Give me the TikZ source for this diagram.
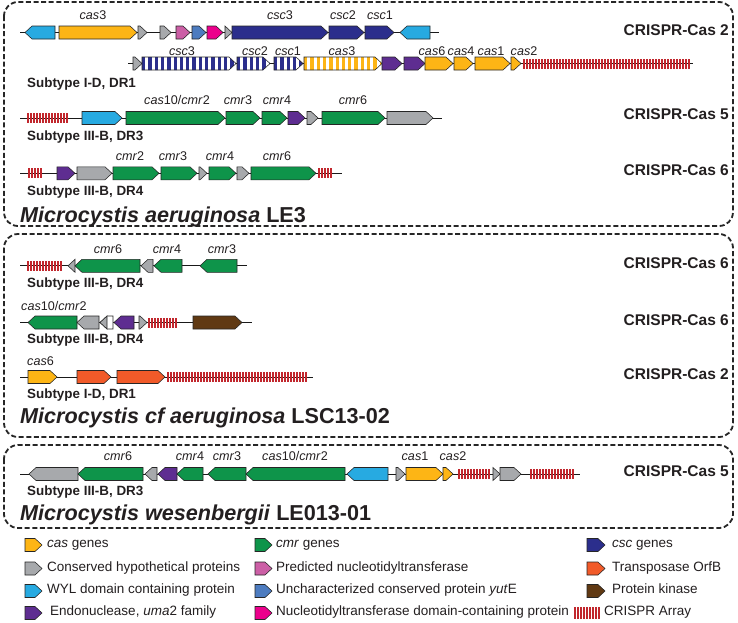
\documentclass[tikz,border=0pt]{standalone}
\usepackage{fontspec}
\setmainfont{Liberation Sans}
\definecolor{cas}{HTML}{FDB515}
\definecolor{cmr}{HTML}{0E944A}
\definecolor{csc}{HTML}{2B2E8C}
\definecolor{hyp}{HTML}{A7A9AC}
\definecolor{wyl}{HTML}{27AAE1}
\definecolor{pnt}{HTML}{CC5FA6}
\definecolor{yut}{HTML}{4D7CC0}
\definecolor{endo}{HTML}{5E2D91}
\definecolor{ntd}{HTML}{EC008C}
\definecolor{tra}{HTML}{F15A29}
\definecolor{kin}{HTML}{603913}
\definecolor{crr}{HTML}{C1272D}
\definecolor{txt}{HTML}{231F20}
\tikzset{
  gene/.style={draw=black!85,line width=0.55pt,line join=miter},
  bone/.style={draw=black!90,line width=0.8pt},
  box/.style={draw=black!85,line width=1.8pt,dash pattern=on 5pt off 2.6pt,rounded corners=14pt},
  lab/.style={anchor=base,inner sep=0pt,text=txt,font=\fontsize{12.6}{15}\selectfont},
  sub/.style={anchor=base west,inner sep=0pt,text=txt,font=\fontsize{13.4}{16}\selectfont\bfseries},
  ttl/.style={anchor=mid east,inner sep=0pt,text=txt,font=\fontsize{15.5}{18}\selectfont\bfseries},
  spc/.style={anchor=base west,inner sep=0pt,text=txt,font=\fontsize{21.6}{25}\selectfont\bfseries},
  leg/.style={anchor=mid west,inner sep=0pt,text=txt,font=\fontsize{13.5}{15}\selectfont}
}
\newcommand{\gR}[4]{%
  \pgfmathsetmacro\hl{min(7,#2-#1)}%
  \filldraw[gene,fill=#4] (#1,#3-6.5) -- (#2-\hl,#3-6.5) -- (#2,#3) -- (#2-\hl,#3+6.5) -- (#1,#3+6.5) -- cycle;}
\newcommand{\gL}[4]{%
  \pgfmathsetmacro\hl{min(7,#2-#1)}%
  \filldraw[gene,fill=#4] (#2,#3-6.5) -- (#1+\hl,#3-6.5) -- (#1,#3) -- (#1+\hl,#3+6.5) -- (#2,#3+6.5) -- cycle;}
\newcommand{\gRs}[4]{%
  \pgfmathsetmacro\hl{min(7,#2-#1)}%
  \pgfmathsetmacro\sb{#1+6.3}%
  \begin{scope}
    \clip (#1,#3-6.5) -- (#2-\hl,#3-6.5) -- (#2,#3) -- (#2-\hl,#3+6.5) -- (#1,#3+6.5) -- cycle;
    \fill[white] (#1,#3-7) rectangle (#2,#3+7);
    \foreach \s in {#1,\sb,...,#2} \fill[#4] (\s,#3-7) rectangle ({\s+3.3},#3+7);
  \end{scope}
  \draw[gene] (#1,#3-6.5) -- (#2-\hl,#3-6.5) -- (#2,#3) -- (#2-\hl,#3+6.5) -- (#1,#3+6.5) -- cycle;}
\newcommand{\crispr}[4][5]{%
  \pgfmathsetmacro\cb{#2+3}%
  \foreach \s in {#2,\cb,...,#3} \fill[crr] (\s,#4-#1) rectangle ({\s+1.5},#4+#1);}
\newcommand{\bb}[3]{\draw[bone] (#1,#3) -- (#2,#3);}
\begin{document}
\begin{tikzpicture}[x=1pt,y=-1pt]
\useasboundingbox (0,0) rectangle (738,622);
\fill[white] (0,0) rectangle (738,622);
% panels
\draw[box] (4,2) rectangle (733,226);
\draw[box] (4,234) rectangle (733,437);
\draw[box] (4,445) rectangle (733,528);

% ---------- Panel 1, row 1
\bb{20}{439}{32.5}
\gL{25}{55}{32.5}{wyl}
\gR{59}{137}{32.5}{cas}
\gR{138}{147}{32.5}{hyp}
\gR{160}{171}{32.5}{hyp}
\gR{176}{190}{32.5}{pnt}
\gR{192}{206}{32.5}{yut}
\gR{207}{223}{32.5}{ntd}
\gR{225}{232}{32.5}{hyp}
\gR{232}{328}{32.5}{csc}
\gR{329}{364}{32.5}{csc}
\gR{365}{394}{32.5}{csc}
\gL{400}{430}{32.5}{wyl}
\node[lab] at (93,19.5) {\textit{cas}3};
\node[lab] at (280,19.5) {\textit{csc}3};
\node[lab] at (343,19.5) {\textit{csc}2};
\node[lab] at (380,19.5) {\textit{csc}1};
\node[ttl] at (729,32.5) {CRISPR-Cas 2};

% row 2
\bb{128}{693}{63.5}
\gR{133}{142}{63.5}{hyp}
\gRs{142}{236}{63.5}{csc}
\gRs{237}{270}{63.5}{csc}
\gRs{274}{303}{63.5}{csc}
\gRs{304}{382}{63.5}{cas}
\gR{382}{402}{63.5}{endo}
\gR{404}{425}{63.5}{endo}
\gR{425}{453}{63.5}{cas}
\gR{454}{473}{63.5}{cas}
\gR{475}{510}{63.5}{cas}
\gR{511}{521}{63.5}{cas}
\crispr{523}{688}{63.5}
\node[lab] at (182,55) {\textit{csc}3};
\node[lab] at (255,55) {\textit{csc}2};
\node[lab] at (288,55) {\textit{csc}1};
\node[lab] at (342,55) {\textit{cas}3};
\node[lab] at (432,55) {\textit{cas}6};
\node[lab] at (461,55) {\textit{cas}4};
\node[lab] at (491,55) {\textit{cas}1};
\node[lab] at (524,55) {\textit{cas}2};
\node[sub] at (27,87) {Subtype I-D, DR1};

% row 3
\bb{20}{442}{118}
\crispr{27}{68}{118}
\gR{82}{122}{118}{wyl}
\gR{126}{225}{118}{cmr}
\gR{226}{260}{118}{cmr}
\gR{262}{287}{118}{cmr}
\gR{288}{305}{118}{endo}
\gR{307}{318}{118}{hyp}
\gR{322}{385}{118}{cmr}
\gR{387}{433}{118}{hyp}
\node[lab] at (177,104) {\textit{cas}10/\textit{cmr}2};
\node[lab] at (238,104) {\textit{cmr}3};
\node[lab] at (277,104) {\textit{cmr}4};
\node[lab] at (353,104) {\textit{cmr}6};
\node[sub] at (27,140.7) {Subtype III-B, DR3};
\node[ttl] at (729,117) {CRISPR-Cas 5};

% row 4
\bb{20}{342}{173.3}
\crispr{28}{40}{173.3}
\gR{57}{75}{173.3}{endo}
\gR{77}{112}{173.3}{hyp}
\gR{113}{159}{173.3}{cmr}
\gR{161}{197}{173.3}{cmr}
\gR{199}{207}{173.3}{hyp}
\gR{209}{236}{173.3}{cmr}
\gR{237}{249}{173.3}{hyp}
\gR{251}{316}{173.3}{cmr}
\crispr{318}{330}{173.3}
\node[lab] at (130,160) {\textit{cmr}2};
\node[lab] at (173,160) {\textit{cmr}3};
\node[lab] at (220,160) {\textit{cmr}4};
\node[lab] at (277,160) {\textit{cmr}6};
\node[sub] at (27,195) {Subtype III-B, DR4};
\node[ttl] at (729,173) {CRISPR-Cas 6};
\node[spc] at (20,222.5) {\textit{Microcystis aeruginosa} LE3};

% ---------- Panel 2, row A
\bb{20}{247}{265.8}
\crispr{27}{60}{265.8}
\gL{68}{75}{265.8}{hyp}
\gL{75}{140}{265.8}{cmr}
\gL{141}{153}{265.8}{hyp}
\gL{154}{182}{265.8}{cmr}
\gL{200}{237}{265.8}{cmr}
\node[lab] at (108,253) {\textit{cmr}6};
\node[lab] at (167,253) {\textit{cmr}4};
\node[lab] at (222,253) {\textit{cmr}3};
\node[sub] at (27,287.3) {Subtype III-B, DR4};
\node[ttl] at (729,265.8) {CRISPR-Cas 6};

% row B
\bb{20}{252}{322.5}
\gL{28}{77}{322.5}{cmr}
\gL{77}{99}{322.5}{hyp}
\gL{100}{113}{322.5}{white}
\filldraw[gene,fill=hyp] (100,322.5) -- (107,316) -- (107,329) -- cycle;
\gL{114}{134}{322.5}{endo}
\gR{139}{147}{322.5}{hyp}
\crispr{148}{175}{322.5}
\gR{193}{242}{322.5}{kin}
\node[lab,anchor=base west] at (21,310) {\textit{cas}10/\textit{cmr}2};
\node[sub] at (27,343.3) {Subtype III-B, DR4};
\node[ttl] at (729,322.5) {CRISPR-Cas 6};

% row C
\bb{20}{313}{377}
\gR{28}{57}{377}{cas}
\gR{77}{111}{377}{tra}
\gR{117}{165}{377}{tra}
\crispr{167}{305}{377}
\node[lab,anchor=base west] at (27,365) {\textit{cas}6};
\node[sub] at (27,398.3) {Subtype I-D, DR1};
\node[ttl] at (729,377) {CRISPR-Cas 2};
\node[spc] at (20,423.3) {\textit{Microcystis cf aeruginosa} LSC13-02};

% ---------- Panel 3
\bb{20}{580}{474}
\gL{29}{78}{474}{hyp}
\gL{78}{143}{474}{cmr}
\gL{145}{157}{474}{hyp}
\gL{158}{177}{474}{endo}
\gL{177}{203}{474}{cmr}
\gL{208}{246}{474}{cmr}
\gL{246}{345}{474}{cmr}
\gL{347}{388}{474}{wyl}
\gR{396}{405}{474}{hyp}
\gR{406}{443}{474}{cas}
\gR{443}{453}{474}{cas}
\crispr{458}{490}{474}
\gR{493}{500}{474}{hyp}
\gR{500}{521}{474}{hyp}
\crispr{530}{572}{474}
\node[lab] at (118,460) {\textit{cmr}6};
\node[lab] at (190,460) {\textit{cmr}4};
\node[lab] at (227,460) {\textit{cmr}3};
\node[lab] at (295,460) {\textit{cas}10/\textit{cmr}2};
\node[lab] at (415,460) {\textit{cas}1};
\node[lab] at (453,460) {\textit{cas}2};
\node[sub] at (27,495.7) {Subtype III-B, DR3};
\node[ttl] at (729,474) {CRISPR-Cas 5};
\node[spc] at (20,520.7) {\textit{Microcystis wesenbergii} LE013-01};

% ---------- Legend
\gR{25}{42}{545}{cas}   \node[leg] at (47,545) {\textit{cas} genes};
\gR{25}{42}{568.5}{hyp} \node[leg] at (47,568.5) {Conserved hypothetical proteins};
\gR{25}{42}{591}{wyl}   \node[leg] at (47,591) {WYL domain containing protein};
\gR{25}{42}{613}{endo}  \node[leg] at (50,613) {Endonuclease, \textit{uma}2 family};
\gR{255}{272}{545}{cmr}   \node[leg] at (276,545) {\textit{cmr} genes};
\gR{255}{272}{568.5}{pnt} \node[leg] at (276,568.5) {Predicted nucleotidyltransferase};
\gR{255}{272}{591}{yut}   \node[leg] at (276,591) {Uncharacterized conserved protein \textit{yut}E};
\gR{255}{272}{613}{ntd}   \node[leg] at (276,613) {Nucleotidyltransferase domain-containing protein};
\gR{587}{605}{545}{csc}   \node[leg] at (612,545) {\textit{csc} genes};
\gR{587}{605}{568.5}{tra} \node[leg] at (612,568.5) {Transposase OrfB};
\gR{587}{605}{591}{kin}   \node[leg] at (612,591) {Protein kinase};
\crispr[6]{574}{598}{613} \node[leg] at (604,613) {CRISPR Array};
\end{tikzpicture}
\end{document}
